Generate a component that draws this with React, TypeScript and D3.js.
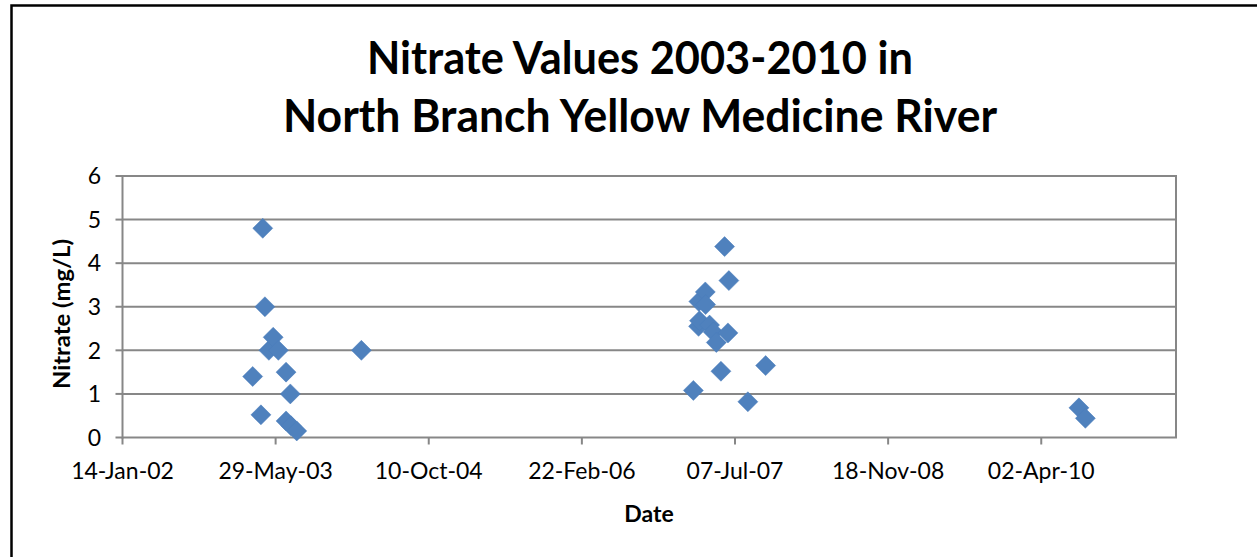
import React from "react";
import * as d3 from "d3";

const W = 1257;
const H = 557;

// Sample dates and nitrate values (mg/L)
const sampleDates: string[] = [
  "2003-03-15", "2003-04-11", "2003-04-17", "2003-04-24", "2003-05-07", "2003-05-21",
  "2003-06-07", "2003-07-02", "2003-07-02", "2003-07-16", "2003-07-18", "2003-08-06",
  "2004-03-04",
  "2007-02-21", "2007-03-10", "2007-03-11", "2007-03-13", "2007-04-01", "2007-04-02",
  "2007-04-15", "2007-04-27", "2007-05-07", "2007-05-22", "2007-06-03", "2007-06-14",
  "2007-06-17", "2007-08-18", "2007-10-15",
  "2010-08-03", "2010-08-24",
];
const nitrateValues: number[] = [
  1.4, 0.52, 4.8, 3.0, 2.0, 2.3,
  2.0, 1.5, 0.38, 1.0, 0.27, 0.15,
  2.0,
  1.08, 2.55, 3.12, 2.68, 3.34, 3.05,
  2.58, 2.42, 2.18, 1.52, 4.38, 2.4,
  3.6, 0.82, 1.65,
  0.68, 0.44,
];

const xTickLabels: string[] = ["14-Jan-02", "29-May-03", "10-Oct-04", "22-Feb-06", "07-Jul-07", "18-Nov-08", "02-Apr-10"];
const yTicks: number[] = [0, 1, 2, 3, 4, 5, 6];

const titleLines: string[] = ["Nitrate Values 2003-2010 in", "North Branch Yellow Medicine River"];
const titleWidths: number[] = [546, 714];

const FONT = "Lato, 'Open Sans', sans-serif";

export default function App() {
  const margin = { left: 122.5, right: 1176, top: 176, bottom: 437.5 };
  const start = new Date(Date.UTC(2002, 0, 14));
  const end = d3.utcDay.offset(start, 3440);
  const x = d3.scaleUtc().domain([start, end]).range([margin.left, margin.right]);
  const y = d3.scaleLinear().domain([0, 6]).range([margin.bottom, margin.top]);
  const parse = d3.utcParse("%Y-%m-%d");
  const fmt = d3.utcFormat("%d-%b-%y");
  const tickDates = xTickLabels.map((_, i) => d3.utcDay.offset(start, i * 500));
  const pts = sampleDates.map((d, i) => ({ d: parse(d) as Date, v: nitrateValues[i] }));
  const grid = "#878787";
  const r = 10;
  const diamond = `M0,${-r}L${r},0L0,${r}L${-r},0Z`;

  return (
    <svg width={W} height={H} style={{ position: "absolute", left: 0, top: 0, background: "#fff" }}>
      <rect x={0} y={0} width={W} height={H} fill="#fff" />
      {/* outer chart frame */}
      <path d={`M11.5,${H + 5}V5.5H${W + 5}`} fill="none" stroke="#000" strokeWidth={2.5} />
      {/* title */}
      {titleLines.map((t, i) => (
        <text key={i} x={640} y={74 + i * 58} textAnchor="middle" fontFamily={FONT} fontWeight={700} fontSize={46}
          textLength={titleWidths[i]} lengthAdjust="spacingAndGlyphs" fill="#000">
          {t}
        </text>
      ))}
      {/* gridlines */}
      {yTicks.filter((t) => t > 0).map((t) => (
        <line key={t} x1={margin.left} x2={margin.right} y1={y(t)} y2={y(t)} stroke={grid} strokeWidth={2} />
      ))}
      {/* right border */}
      <line x1={margin.right} x2={margin.right} y1={margin.top - 1} y2={margin.bottom} stroke={grid} strokeWidth={2} />
      {/* axes */}
      <line x1={margin.left} x2={margin.left} y1={margin.top - 1} y2={margin.bottom + 1} stroke={grid} strokeWidth={2} />
      <line x1={margin.left} x2={margin.right + 1} y1={margin.bottom} y2={margin.bottom} stroke={grid} strokeWidth={2} />
      {yTicks.map((t) => (
        <g key={t}>
          <line x1={margin.left - 7} x2={margin.left} y1={y(t)} y2={y(t)} stroke={grid} strokeWidth={2} />
          <text x={101} y={y(t)} dy="0.36em" textAnchor="end" fontFamily={FONT} fontSize={23} fill="#000">
            {t}
          </text>
        </g>
      ))}
      {tickDates.map((d, i) => (
        <g key={i}>
          <line x1={x(d)} x2={x(d)} y1={margin.bottom} y2={margin.bottom + 7} stroke={grid} strokeWidth={2} />
          <text x={x(d)} y={479} textAnchor="middle" fontFamily={FONT} fontSize={23} fill="#000">
            {fmt(d)}
          </text>
        </g>
      ))}
      {/* axis titles */}
      <text x={649} y={522} textAnchor="middle" fontFamily={FONT} fontWeight={700} fontSize={23} fill="#000">
        Date
      </text>
      <text transform={`translate(70,314) rotate(-90)`} textAnchor="middle" fontFamily={FONT} fontWeight={700} fontSize={23}
        textLength={150} lengthAdjust="spacingAndGlyphs" fill="#000">
        Nitrate (mg/L)
      </text>
      {/* points */}
      {pts.map((p, i) => (
        <path key={i} d={diamond} transform={`translate(${x(p.d)},${y(p.v)})`} fill="#4F81BD" stroke="#4A7DBA" strokeWidth={0.5} />
      ))}
    </svg>
  );
}
